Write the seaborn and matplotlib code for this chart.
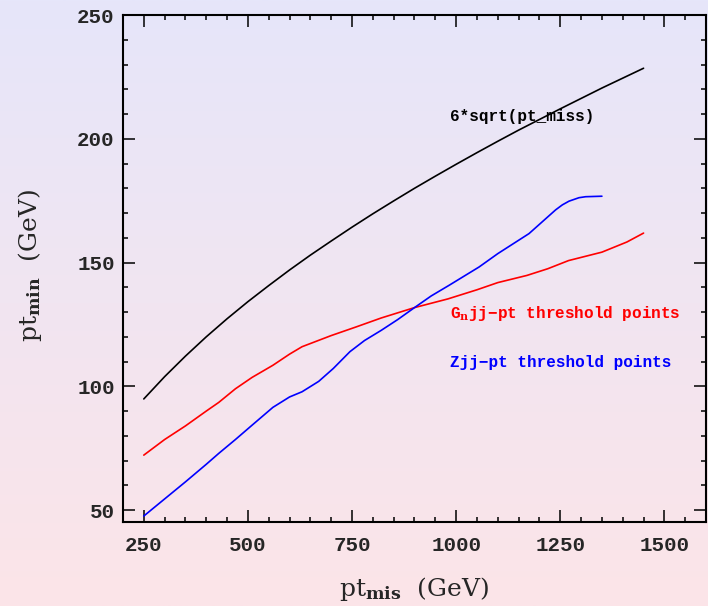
import numpy as np
import pandas as pd
import matplotlib
matplotlib.use("Agg")
import matplotlib.pyplot as plt
import seaborn as sns
from matplotlib.ticker import MultipleLocator

# ---- data ----
black_x = [250, 300, 350, 400, 450, 500, 550, 600, 650, 700, 750, 800, 850,
           900, 950, 1000, 1050, 1100, 1150, 1200, 1250, 1300, 1350, 1400, 1450]
black_y = [94.9, 103.9, 112.2, 120.0, 127.3, 134.2, 140.7, 147.0, 153.0, 158.7,
           164.3, 169.7, 174.9, 180.0, 184.9, 189.7, 194.4, 199.0, 203.5, 207.8,
           212.1, 216.3, 220.5, 224.5, 228.5]

red_x = [250, 300, 350, 400, 430, 470, 510, 560, 600, 630, 700, 760, 820, 900,
         980, 1050, 1100, 1170, 1220, 1270, 1350, 1410, 1450]
red_y = [72.2, 78.5, 84.0, 90.0, 93.5, 99.0, 103.6, 108.5, 113.0, 116.0, 120.5,
         124.0, 127.6, 131.8, 135.3, 139.0, 141.9, 144.8, 147.5, 150.8, 154.2,
         158.3, 161.9]

blue_x = [250, 300, 350, 400, 430, 470, 510, 560, 600, 630, 670, 705, 745, 780,
          820, 860, 900, 940, 983, 1055, 1100, 1175, 1215, 1239, 1255, 1271,
          1295, 1311, 1350]
blue_y = [47.6, 54.5, 61.4, 68.5, 72.9, 78.5, 84.3, 91.5, 95.7, 97.8, 102.0,
          107.2, 114.0, 118.5, 122.6, 127.0, 131.8, 136.5, 140.8, 148.2, 153.6,
          161.7, 167.7, 171.3, 173.3, 174.8, 176.2, 176.6, 176.8]

labels = ["6*sqrt(pt_miss)", "G$_\\mathbf{n}$jj\u2212pt threshold points",
          "Zjj\u2212pt threshold points"]
colors = ["black", "#ff0000", "#0000ff"]

x_ticks = [250, 500, 750, 1000, 1250, 1500]
y_ticks = [50, 100, 150, 200, 250]

# ---- figure ----
sns.set_theme(style="ticks")
plt.rcParams["mathtext.fontset"] = "dejavuserif"

fig = plt.figure(figsize=(7.08, 6.06), dpi=100)

# background gradient
bg = fig.add_axes([0, 0, 1, 1], zorder=-10)
top = np.array([230, 230, 250]) / 255.0
bot = np.array([252, 228, 232]) / 255.0
t = np.linspace(0, 1, 256)[:, None]
grad = top[None, :] * (1 - t) + bot[None, :] * t
bg.imshow(grad[:, None, :], aspect="auto", extent=[0, 1, 0, 1])
bg.axis("off")

ax = fig.add_axes([0.1737, 0.1391, 0.9972 - 0.1737, 0.9752 - 0.1391])
ax.set_facecolor("none")

df_b = pd.DataFrame({"x": black_x, "y": black_y})
df_r = pd.DataFrame({"x": red_x, "y": red_y})
df_z = pd.DataFrame({"x": blue_x, "y": blue_y})
sns.lineplot(data=df_b, x="x", y="y", ax=ax, color=colors[0], lw=1.2, sort=False)
sns.lineplot(data=df_r, x="x", y="y", ax=ax, color=colors[1], lw=1.2, sort=False)
sns.lineplot(data=df_z, x="x", y="y", ax=ax, color=colors[2], lw=1.2, sort=False)

ax.set_xlim(200, 1600)
ax.set_ylim(45.3, 250)
ax.set_xticks(x_ticks)
ax.set_yticks(y_ticks)
ax.xaxis.set_minor_locator(MultipleLocator(50))
ax.yaxis.set_minor_locator(MultipleLocator(10))

tickfont = dict(family="Liberation Mono", weight="bold", size=15)
ax.set_xticklabels([str(v) for v in x_ticks], **tickfont)
ax.set_yticklabels([str(v) for v in y_ticks], **tickfont)

ax.tick_params(which="both", direction="in", top=True, right=True, color="black",
               width=1.1)
ax.tick_params(which="major", length=8.6)
ax.tick_params(which="minor", length=3.6)
ax.tick_params(axis="x", which="major", pad=10)
ax.tick_params(axis="y", which="major", pad=6)
for s in ax.spines.values():
    s.set_linewidth(1.5)
    s.set_color("black")

ax.set_xlabel("")
ax.set_ylabel("")
lblfont = dict(family="DejaVu Serif", size=18)
fig.text(414 / 708, 1 - 589 / 606, r"pt$_{\mathbf{mis}}$  (GeV)", ha="center",
         va="center", **lblfont)
fig.text(30 / 708, 1 - 265 / 606, r"pt$_{\mathbf{min}}$  (GeV)", ha="center",
         va="center", rotation=90, **lblfont)

txtfont = dict(family="Liberation Mono", weight="bold", size=11.5)
ax.text(985, 209, labels[0], color=colors[0], ha="left", va="center", **txtfont)
ax.text(985, 129.5, labels[1], color=colors[1], ha="left", va="center", **txtfont)
ax.text(985, 109.7, labels[2], color=colors[2], ha="left", va="center", **txtfont)

fig.savefig("out.png", dpi=100)
